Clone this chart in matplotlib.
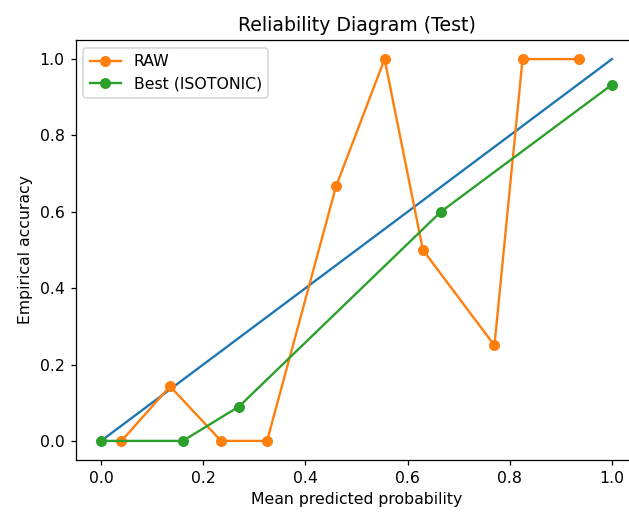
import numpy as np
import matplotlib.pyplot as plt

# perfect calibration
diag_x = [0.0, 1.0]
diag_y = [0.0, 1.0]

# raw model bins
raw_x = [0.04, 0.135, 0.235, 0.325, 0.46, 0.555, 0.63, 0.77, 0.825, 0.935]
raw_y = [0.0, 0.143, 0.0, 0.0, 0.667, 1.0, 0.5, 0.25, 1.0, 1.0]

# isotonic calibrated bins
iso_x = [0.0, 0.16, 0.27, 0.665, 1.0]
iso_y = [0.0, 0.0, 0.09, 0.6, 0.933]

# original text is a bit larger than at 100 dpi, so render at 113
DPI = 113
fig = plt.figure(figsize=(629 / DPI, 512 / DPI), dpi=DPI)
ax = fig.add_axes([75.5 / 629, 52 / 512, 562 / 629, 420 / 512])

ax.plot(diag_x, diag_y, color='C0')
ax.plot(raw_x, raw_y, 'o-', color='C1', label='RAW')
ax.plot(iso_x, iso_y, 'o-', color='C2', label='Best (ISOTONIC)')

ax.set_title('Reliability Diagram (Test)')
ax.set_xlabel('Mean predicted probability')
ax.set_ylabel('Empirical accuracy')
ax.legend(loc='upper left')

fig.savefig('out.png', dpi=DPI)
